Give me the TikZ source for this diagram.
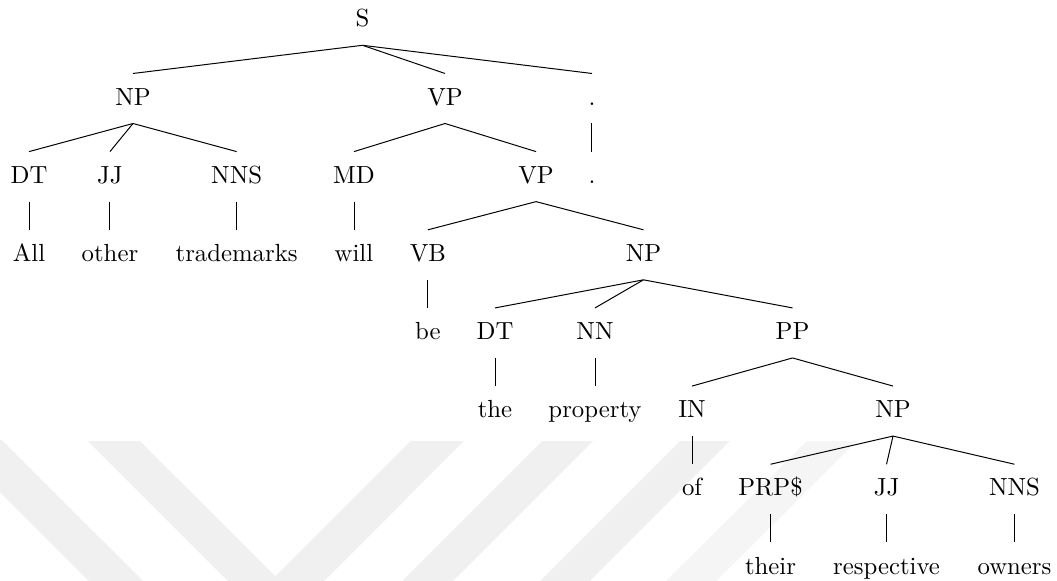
\documentclass[tikz,border=0pt]{standalone}
\usepackage{amssymb}
\usepackage{tikz}

\tikzset{
    tag/.style={anchor=base, inner sep=0pt, text height=12.6pt, text depth=7.2pt},
    wmark/.style={fill=black!6, draw=none}
}

\begin{document}
\begin{tikzpicture}
    \useasboundingbox (0,0) rectangle (15.004,-8.247);

    % faint stripes behind the tree
    \begin{scope}
        \clip (0,0) rectangle (15.004,-8.247);
        \fill[wmark] (-0.738,-6.246) -- (0.028,-6.246) -- (2.300,-8.517) -- (1.533,-8.517) -- cycle;
        \fill[wmark] (1.249,-6.260) -- (1.987,-6.260) -- (3.911,-8.183) -- (5.834,-6.260)
            -- (6.586,-6.260) -- (3.918,-8.929) -- cycle;
        \fill[wmark] (7.694,-6.260) -- (8.418,-6.260) -- (6.161,-8.517) -- (5.437,-8.517) -- cycle;
        \fill[wmark] (9.653,-6.260) -- (10.362,-6.260) -- (8.105,-8.517) -- (7.396,-8.517) -- cycle;
        \fill[wmark, fill=black!4] (11.455,-6.260) -- (12.165,-6.260) -- (9.894,-8.517) -- (9.184,-8.517) -- cycle;
    \end{scope}

    \node[tag] (s) at (5.146,-0.383) {S};

    \node[tag] (np1) at (1.888,-1.493) {NP};
    \node[tag] (vp1) at (6.317,-1.493) {VP};
    \node[tag] (dot1) at (8.403,-1.493) {.};

    \node[tag] (dt1) at (0.412,-2.602) {DT};
    \node[tag] (jj1) at (1.561,-2.602) {JJ};
    \node[tag] (nns1) at (3.359,-2.602) {NNS};
    \node[tag] (md) at (5.025,-2.602) {MD};
    \node[tag] (vp2) at (7.609,-2.602) {VP};
    \node[tag] (dot2) at (8.403,-2.602) {.};

    \node[tag] (all) at (0.412,-3.712) {All};
    \node[tag] (other) at (1.561,-3.712) {other};
    \node[tag] (trademarks) at (3.359,-3.712) {trademarks};
    \node[tag] (will) at (5.025,-3.712) {will};
    \node[tag] (vb) at (6.075,-3.712) {VB};
    \node[tag] (np2) at (9.134,-3.712) {NP};

    \node[tag] (be) at (6.075,-4.821) {be};
    \node[tag] (dt2) at (7.027,-4.821) {DT};
    \node[tag] (nn) at (8.446,-4.821) {NN};
    \node[tag] (pp) at (11.250,-4.821) {PP};

    \node[tag] (the) at (7.027,-5.930) {the};
    \node[tag] (property) at (8.446,-5.930) {property};
    \node[tag] (prep) at (9.823,-5.930) {IN};
    \node[tag] (np3) at (12.676,-5.930) {NP};

    \node[tag] (of) at (9.823,-7.040) {of};
    \node[tag] (prp) at (10.937,-7.040) {PRP\$};
    \node[tag] (jj2) at (12.584,-7.040) {JJ};
    \node[tag] (nns2) at (14.401,-7.040) {NNS};

    \node[tag] (their) at (10.937,-8.149) {their};
    \node[tag] (respective) at (12.584,-8.149) {respective};
    \node[tag] (owners) at (14.401,-8.149) {owners};

    \foreach \p/\c in {s/np1, s/vp1, s/dot1, np1/dt1, np1/jj1, np1/nns1,
        dt1/all, jj1/other, nns1/trademarks, vp1/md, vp1/vp2, dot1/dot2,
        md/will, vp2/vb, vp2/np2, vb/be, np2/dt2, np2/nn, np2/pp,
        dt2/the, nn/property, pp/prep, pp/np3, prep/of,
        np3/prp, np3/jj2, np3/nns2, prp/their, jj2/respective, nns2/owners}
        \draw (\p.south) -- (\c.north);
\end{tikzpicture}
\end{document}
